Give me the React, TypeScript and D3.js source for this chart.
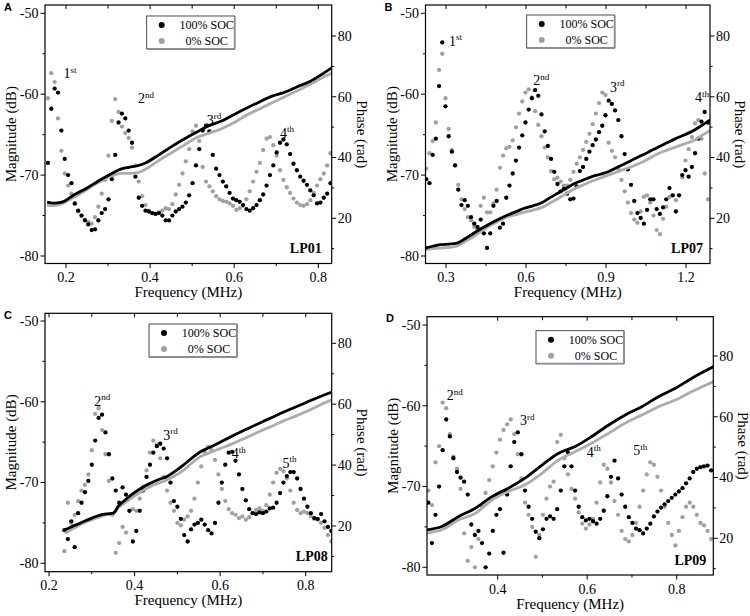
import React from 'react';
import * as d3 from 'd3';

// ---- LP01 (panel A) ----
const sweepA = { start: 0.157, step: 0.008 };
const magA100 = [
  -68.5, -61.8, -59.3, -59.8, -64.5, -68, -70, -71, -73.5, -74.4,
  -75, -75.6, -76.1, -76.8, -76.7, -75.6, -74.7, -74.2, -73, -70.5,
  -67.5, -63.5, -62.4, -63, -64.5, -66, -70.2, -72.8, -73.8, -74.4,
  -74.5, -74.7, -74.8, -74.7, -75, -75.6, -75.6, -75, -74.5, -74.2,
  -73.9, -73.4, -72.5, -71, -68.8, -66.8, -64.5, -63.9, -64.6, -67.5,
  -69.2, -70, -70.8, -71.4, -72.2, -72.9, -73.1, -73.3, -73.7, -74.2,
  -74.4, -74.1, -73.7, -73.1, -72.4, -71.3, -70, -68.8, -67.2, -66,
  -65.6, -66.2, -67.4, -68.6, -69.4, -70.2, -70.7, -71.2, -71.9, -72.5,
  -73.5, -73.4, -72.8, -72.3, -71,
];
const magA0 = [
  -60.5, -57.4, -58.5, -63, -67, -69.8, -71.3, -72.3, -73.6, -74.5,
  -75, -75.5, -75.8, -76, -75.2, -73.9, -72.3, -70.6, -67.6, -63.3,
  -60.6, -62.2, -64, -64.8, -65.4, -66.6, -68.8, -70.8, -72.6, -73.7,
  -74.4, -74.7, -74.8, -74.6, -74.4, -74.1, -74.2, -73.6, -72.4, -71.2,
  -69.8, -68.3, -66.8, -64.6, -63.9, -65.8, -69, -70.8, -71.4, -72,
  -72.6, -73, -73.2, -73.3, -73.5, -73.8, -74.3, -74.1, -73.8, -73,
  -72, -70.8, -69.6, -68.5, -66.9, -65.5, -65.3, -66.3, -67.6, -69.4,
  -70.6, -71.5, -72.2, -72.9, -73.4, -73.7, -73.8, -73.6, -73.1, -72.2,
  -71.3, -70.5, -69.8, -68.8, -67.3,
];
const phaseFreqA = [0.155, 0.17, 0.19, 0.22, 0.25, 0.28, 0.31, 0.33, 0.35, 0.37, 0.39, 0.42, 0.45, 0.48, 0.51, 0.54, 0.57, 0.6, 0.63, 0.66, 0.69, 0.72, 0.75, 0.78, 0.81, 0.835];
const phaseA100 = [25.3, 25, 25.3, 27.8, 30, 32.5, 34.8, 36.2, 36.8, 37.3, 38.3, 40.8, 43.5, 46, 48.3, 50.5, 52, 54.2, 56.3, 58.3, 60.2, 61.5, 63.3, 65, 67.5, 69.8];
const phaseA0 = [24.3, 24.2, 24.8, 27, 29.5, 32, 34, 34.8, 34.8, 35, 36.2, 39, 41.5, 44, 46.5, 48, 49.5, 51.5, 54, 56, 58, 60, 62, 64, 66.3, 68];
const peaksA = [
  { n: '1', s: 'st', f: 0.194, m: -58.0 },
  { n: '2', s: 'nd', f: 0.371, m: -61.1 },
  { n: '3', s: 'rd', f: 0.535, m: -63.8 },
  { n: '4', s: 'th', f: 0.709, m: -65.4 },
];

// ---- LP07 (panel B) ----
const sweepB = { start: 0.226, step: 0.012 };
const magB100 = [
  -70.5, -71, -67.5, -65.5, -59, -53.6, -61.5, -65.2, -67.1, -68.8,
  -71.8, -73.7, -73.1, -73.8, -75.2, -76, -76.4, -75.5, -77.2, -79,
  -77.2, -73.8, -73.2, -76.5, -76, -72.8, -71.3, -69.8, -68.2, -66.6,
  -65.1, -63.5, -61.9, -60.5, -59.5, -60.2, -62.5, -64.6, -66.4, -68,
  -69.6, -71.1, -72, -71.7, -72.3, -73, -72.9, -71.4, -69.5, -69,
  -68, -67.1, -66.3, -65.6, -64.7, -63.9, -62.6, -60.8, -61.2, -62,
  -63.2, -65.2, -67.4, -69.3, -71.2, -73.2, -74.7, -75.3, -76, -74.3,
  -73, -73, -74.2, -74.8, -74, -73, -71.6, -72.5, -74.5, -72.5,
  -70, -69.4, -70.2, -69, -67.3, -65.5, -63.4, -62.2, -63.5,
];
const magB0 = [
  -69.2, -67.3, -65.8, -63.5, -57, -55, -60.5, -64.3, -66.9, -68.8,
  -71.2, -73, -74.2, -75.2, -75.6, -76.4, -76.7, -73.8, -72.8, -74.6,
  -74.6, -73.5, -71.8, -69.1, -67.6, -66.7, -66.5, -65.7, -64.1, -62.4,
  -60.9, -59.8, -59.4, -60.4, -62.1, -63.8, -65.2, -66.6, -67.8, -69.5,
  -70.5, -70.3, -70.8, -71.3, -71.3, -70.6, -69.6, -68.6, -67.8, -66.9,
  -65.9, -64.9, -63.7, -62.4, -61.1, -59.8, -60.1, -66, -67, -67.8,
  -69.2, -70.6, -72, -73.4, -74.7, -75.5, -75.9, -74.5, -72.7, -72.5,
  -73.4, -75, -76.8, -77.3, -75.4, -73.9, -72.7, -72.5, -73.1, -72.5,
  -70.3, -68.2, -66.8, -65.3, -63.6, -63.2, -65.5, -69.8, -73,
];
const phaseFreqB = [0.221, 0.25, 0.278, 0.31, 0.341, 0.37, 0.404, 0.436, 0.468, 0.5, 0.531, 0.563, 0.594, 0.626, 0.657, 0.69, 0.721, 0.752, 0.784, 0.815, 0.847, 0.878, 0.91, 0.942, 0.974, 1.005, 1.037, 1.068, 1.1, 1.132, 1.163, 1.195, 1.227, 1.258, 1.292];
const phaseB100 = [10.2, 10.8, 11.3, 11.5, 11.8, 13.2, 15.1, 16.8, 18.4, 19.8, 21.1, 22.2, 23.3, 24.1, 25, 26.8, 28.3, 29.9, 31.5, 32.6, 33.7, 34.5, 35.4, 36.8, 38.1, 39.5, 40.8, 42.2, 43.6, 45, 46.3, 47.5, 48.8, 50.5, 52.5];
const phaseB0 = [9.6, 10, 10.2, 10.4, 10.8, 12.3, 14, 16, 17.8, 19.2, 20.5, 21.2, 22, 22.7, 23.5, 25, 26.5, 28.2, 29.8, 31, 32.2, 33.2, 34.3, 35.3, 36.3, 37.3, 38.5, 40, 41.5, 42.5, 43.5, 44.5, 45.5, 47.2, 49];
const peaksB = [
  { n: '1', s: 'st', f: 0.311, m: -54.0 },
  { n: '2', s: 'nd', f: 0.627, m: -58.9 },
  { n: '3', s: 'rd', f: 0.915, m: -59.7 },
  { n: '4', s: 'th', f: 1.234, m: -61.0 },
];

// ---- LP08 (panel C) ----
const sweepC = { start: 0.236, step: 0.008 };
const magC100 = [
  -75.9, -77, -74.8, -78, -73.8, -72.5, -71.2, -69.8, -67.8, -64.8,
  -62, -61.6, -63.8, -66.5, -69.5, -71, -72.5, -70.6, -71.5, -73.5,
  -77.3, -76, -73.5, -71, -69.3, -67.8, -66.3, -65.5, -65.2, -65.8,
  -67, -70, -72.3, -73, -74.5, -76.5, -77.3, -75.8, -75.2, -75,
  -74.6, -75.2, -75.9, -76.3, -75, -72.5, -70, -67.8, -66.3, -66.2,
  -67.3, -69, -70.8, -72.2, -73.3, -73.8, -73.9, -73.7, -73.8, -73.6,
  -73.2, -73.1, -72.5, -71.3, -70, -69.2, -68.7, -68.7, -69.5, -70.8,
  -72, -73, -73.8, -74.4, -74.5, -73.9, -74.8, -75.5, -76,
];
const magC0 = [
  -78.5, -72.5, -75, -74, -72.3, -71, -70.3, -69, -66, -61.5,
  -60.8, -63.5, -66.5, -69.8, -74, -78.7, -77.5, -75.5, -76.2, -73.5,
  -73.3, -73.5, -72, -70.5, -68.5, -66.3, -64.8, -65.3, -67, -69.3,
  -71, -72.5, -73.5, -75, -75.3, -74.6, -74.2, -73.5, -72, -70,
  -68, -66.2, -65.6, -66, -67.2, -69, -70.8, -72.3, -73.3, -73.8,
  -74, -74.4, -74.2, -74.6, -74.3, -73.8, -73.4, -73.2, -73.5, -72.8,
  -71.5, -70, -68.8, -68.3, -68.6, -69.5, -71, -72.5, -73.4, -73.8,
  -73.6, -73.8, -74.2, -74.5, -74.6, -75, -75.6, -76.5, -77.3,
];
const phaseFreqC = [0.237, 0.26, 0.28, 0.3, 0.319, 0.335, 0.35, 0.362, 0.38, 0.397, 0.416, 0.436, 0.455, 0.475, 0.495, 0.514, 0.533, 0.553, 0.575, 0.6, 0.625, 0.65, 0.675, 0.7, 0.725, 0.75, 0.775, 0.8, 0.83, 0.862];
const phaseC100 = [18.7, 20.2, 21.4, 22.6, 23.6, 24, 24.2, 26.5, 28.8, 30.7, 32.5, 34, 35.2, 36.2, 38, 40, 42.2, 44.3, 45.8, 47.5, 49.3, 51, 52.7, 54.3, 55.9, 57.5, 59, 60.5, 62.3, 64];
const phaseC0 = [17.6, 19.4, 20.9, 22.1, 23, 23.7, 24, 26, 27.9, 29.6, 31.3, 32.9, 34, 35.1, 36.6, 38.3, 40.6, 42.7, 44, 45.4, 46.8, 48.3, 49.9, 51.5, 53, 54.6, 56, 57.5, 59.5, 61.5];
const peaksC = [
  { n: '2', s: 'nd', f: 0.306, m: -60.5 },
  { n: '3', s: 'rd', f: 0.467, m: -64.7 },
  { n: '4', s: 'th', f: 0.627, m: -67.0 },
  { n: '5', s: 'th', f: 0.746, m: -68.2 },
];

// ---- LP09 (panel D) ----
const sweepD = { start: 0.245, step: 0.008 };
const magD100 = [
  -72, -77, -73.5, -70, -65.5, -61.7, -63.8, -66.5, -68.2, -68.9,
  -69.4, -71, -74.7, -76, -75.5, -77, -80, -78.3, -75.5, -73.5,
  -72.8, -78.2, -71, -67.5, -64.5, -63.3, -66, -70.5, -72.5, -74,
  -75.6, -76.4, -75.3, -74, -73.7, -74, -72.8, -70.5, -67.5, -65.8,
  -67.5, -70.5, -72.5, -73.8, -74.2, -74, -74.3, -74.6, -74, -73,
  -71.2, -68.8, -66.8, -69, -71, -72.5, -73.8, -74.5, -75.2, -75.4,
  -75.8, -75.2, -74.6, -73.7, -73.1, -72.6, -72.2, -71.8, -71.4, -71,
  -70.6, -70.2, -69.6, -69, -68.2, -67.8, -67.6, -67.5, -67.4, -68,
];
const magD0 = [
  -70.5, -72.3, -67, -65, -59.6, -60.3, -63.5, -66.3, -67.8, -70.3,
  -75.8, -79.2, -77.5, -80, -76.5, -72.5, -70.8, -69.2, -67.5, -65.8,
  -64.2, -63, -62.3, -61.7, -63.5, -66, -69, -72, -73.5, -75,
  -78.7, -76, -73.5, -71.5, -70, -69.4, -64.5, -63.6, -66.5, -68.5,
  -70.3, -71.5, -73.2, -74.6, -75.2, -74.7, -74, -72, -69.5, -67.3,
  -67.8, -69.5, -71.8, -73.5, -75.5, -76.5, -76.8, -76, -74.5, -72.5,
  -70.5, -68.5, -67, -67.3, -68.8, -70.5, -72.5, -74.5, -76, -77.3,
  -75.5, -73.8, -72.5, -72, -72.5, -73.5, -74.5, -74.8, -75.5, -76.5,
];
const phaseFreqD = [0.242, 0.275, 0.312, 0.35, 0.387, 0.424, 0.461, 0.499, 0.536, 0.573, 0.61, 0.648, 0.685, 0.722, 0.759, 0.797, 0.834, 0.884];
const phaseD100 = [22.8, 23.9, 27.1, 29.9, 33.7, 36.5, 39.8, 44.1, 48, 50.2, 53.5, 57.3, 60.6, 63.3, 66.6, 69.4, 72.7, 76.6];
const phaseD0 = [21.7, 22.8, 26, 28.2, 32.6, 35.4, 37.6, 41.4, 45.8, 48.5, 51.3, 54.6, 57.9, 60.6, 63.3, 65.5, 68.3, 71.7];
const peaksD = [
  { n: '2', s: 'nd', f: 0.286, m: -59.3 },
  { n: '3', s: 'rd', f: 0.45, m: -62.4 },
  { n: '4', s: 'th', f: 0.599, m: -66.3 },
  { n: '5', s: 'th', f: 0.703, m: -66.1 },
];

const magMajor = [-50, -60, -70, -80];
const magMinor = [-55, -65, -75];
const phaseMajor = [20, 40, 60, 80];
const phaseMinor = [10, 30, 50, 70];
const legendLabels = ['100% SOC', '0% SOC'];

const SERIF = 'Liberation Serif, serif';
const SANS = 'Liberation Sans, Arial, sans-serif';
const BLACK = '#000';
const GRAY = '#a0a0a0';
const GRAY_LINE = '#acacac';

const panels = [
  {
    id: 'A', lp: 'LP01', lpInset: 10,
    box: [45, 5, 331.7, 263.5], xCal: [[0.2, 66], [0.8, 318.3]],
    magPx: [13.3, 256], phPx: [36, 218.3],
    xMajor: [0.2, 0.4, 0.6, 0.8], xMinor: [0.3, 0.5, 0.7],
    sweep: sweepA, m100: magA100, m0: magA0,
    pf: phaseFreqA, p100: phaseA100, p0: phaseA0, peaks: peaksA,
    legend: [101.7, 11],
  },
  {
    id: 'B', lp: 'LP07', lpInset: 7,
    box: [425.5, 5, 710, 263.5], xCal: [[0.3, 446], [1.2, 686]],
    magPx: [13.3, 256], phPx: [36, 218.3],
    xMajor: [0.3, 0.6, 0.9, 1.2], xMinor: [0.45, 0.75, 1.05],
    sweep: sweepB, m100: magB100, m0: magB0,
    pf: phaseFreqB, p100: phaseB100, p0: phaseB0, peaks: peaksB,
    legend: [101.2, 10],
  },
  {
    id: 'C', lp: 'LP08', lpInset: 4,
    box: [45, 313.3, 331.7, 571.7], xCal: [[0.2, 49], [0.8, 305.7]],
    magPx: [321, 563.3], phPx: [343.3, 526],
    xMajor: [0.2, 0.4, 0.6, 0.8], xMinor: [0.3, 0.5, 0.7],
    sweep: sweepC, m100: magC100, m0: magC0,
    pf: phaseFreqC, p100: phaseC100, p0: phaseC0, peaks: peaksC,
    legend: [104, 10.7],
  },
  {
    id: 'D', lp: 'LP09', lpInset: 7,
    box: [427, 316.7, 713.3, 575], xCal: [[0.4, 497.7], [0.8, 676.7]],
    magPx: [325, 567.3], phPx: [356, 538.3],
    xMajor: [0.4, 0.6, 0.8], xMinor: [0.5, 0.7],
    sweep: sweepD, m100: magD100, m0: magD0,
    pf: phaseFreqD, p100: phaseD100, p0: phaseD0, peaks: peaksD,
    legend: [109, 14],
  },
];

function Panel({ p }: { p: any }) {
  const [x0, y0, x1, y1] = p.box;
  const x = d3.scaleLinear().domain([p.xCal[0][0], p.xCal[1][0]]).range([p.xCal[0][1], p.xCal[1][1]]);
  const yM = d3.scaleLinear().domain([-50, -80]).range(p.magPx);
  const yP = d3.scaleLinear().domain([80, 20]).range(p.phPx);
  const clipId = `clip-${p.id}`;
  const fmt = d3.format('.1f');

  const dots = (mags: number[]) =>
    mags.map((m, i) => ({ f: p.sweep.start + i * p.sweep.step, m }));

  const phaseLine = d3.line<number>()
    .x((_, i) => x(p.pf[i]))
    .y((v) => yP(v))
    .curve(d3.curveMonotoneX);

  const lx = x0 + p.legend[0];
  const ly = y0 + p.legend[1];
  const cx = (x0 + x1) / 2;
  const cy = (y0 + y1) / 2;

  return (
    <g>
      <defs>
        <clipPath id={clipId}>
          <rect x={x0} y={y0} width={x1 - x0} height={y1 - y0} />
        </clipPath>
      </defs>

      <g clipPath={`url(#${clipId})`}>
        {dots(p.m0).map((d, i) => (
          <circle key={`g${i}`} cx={x(d.f)} cy={yM(d.m)} r={2.15} fill={GRAY} />
        ))}
        {dots(p.m100).map((d, i) => (
          <circle key={`b${i}`} cx={x(d.f)} cy={yM(d.m)} r={2.15} fill={BLACK} />
        ))}
        <path d={phaseLine(p.p0) || ''} fill="none" stroke={GRAY_LINE} strokeWidth={2.8} />
        <path d={phaseLine(p.p100) || ''} fill="none" stroke={BLACK} strokeWidth={2.8} />
      </g>

      <rect x={x0} y={y0} width={x1 - x0} height={y1 - y0} fill="none" stroke="#000" strokeWidth={1.2} />

      {/* left magnitude axis */}
      {magMajor.map((v) => (
        <g key={`mm${v}`}>
          <line x1={x0 - 4.5} x2={x0} y1={yM(v)} y2={yM(v)} stroke="#000" strokeWidth={1} />
          <text x={x0 - 6.5} y={yM(v) + 4.8} textAnchor="end" fontSize={14}>{v}</text>
        </g>
      ))}
      {magMinor.map((v) => (
        <line key={`mn${v}`} x1={x0 - 2.5} x2={x0} y1={yM(v)} y2={yM(v)} stroke="#000" strokeWidth={1} />
      ))}

      {/* right phase axis */}
      {phaseMajor.map((v) => (
        <g key={`pm${v}`}>
          <line x1={x1} x2={x1 + 4.5} y1={yP(v)} y2={yP(v)} stroke="#000" strokeWidth={1} />
          <text x={x1 + 6} y={yP(v) + 4.8} fontSize={14}>{v}</text>
        </g>
      ))}
      {phaseMinor.map((v) => (
        <line key={`pn${v}`} x1={x1} x2={x1 + 2.5} y1={yP(v)} y2={yP(v)} stroke="#000" strokeWidth={1} />
      ))}

      {/* bottom / top frequency ticks */}
      {p.xMajor.map((v: number) => (
        <g key={`xm${v}`}>
          <line x1={x(v)} x2={x(v)} y1={y1} y2={y1 + 4.5} stroke="#000" strokeWidth={1} />
          <line x1={x(v)} x2={x(v)} y1={y0} y2={y0 + 4} stroke="#000" strokeWidth={1} />
          <text x={x(v)} y={y1 + 18.5} textAnchor="middle" fontSize={14}>{fmt(v)}</text>
        </g>
      ))}
      {p.xMinor.map((v: number) => (
        <g key={`xn${v}`}>
          <line x1={x(v)} x2={x(v)} y1={y1} y2={y1 + 2.5} stroke="#000" strokeWidth={1} />
          <line x1={x(v)} x2={x(v)} y1={y0} y2={y0 + 3.5} stroke="#000" strokeWidth={1} />
        </g>
      ))}

      {/* axis titles */}
      <text x={cx} y={y1 + 33.5} textAnchor="middle" fontSize={15}>Frequency (MHz)</text>
      <text transform={`translate(${x0 - 29},${cy}) rotate(-90)`} textAnchor="middle" fontSize={15}>Magnitude (dB)</text>
      <text transform={`translate(${x1 + 25},${cy}) rotate(90)`} textAnchor="middle" fontSize={15}>Phase (rad)</text>

      {/* harmonic labels */}
      {p.peaks.map((h: any) => (
        <text key={h.n + h.s} x={x(h.f)} y={yM(h.m)} fontSize={14}>
          {h.n}
          <tspan dy={-5.5} fontSize={9}>{h.s}</tspan>
        </text>
      ))}

      {/* legend */}
      <rect x={lx} y={ly} width={88} height={33} fill="#fff" stroke="#222" strokeWidth={0.8} />
      <line x1={lx + 0.5} x2={lx + 88} y1={ly + 33} y2={ly + 33} stroke="#8c8c8c" strokeWidth={1.8} />
      <line x1={lx + 88} x2={lx + 88} y1={ly + 0.5} y2={ly + 33} stroke="#8c8c8c" strokeWidth={1.8} />
      {legendLabels.map((lab, i) => (
        <g key={lab}>
          <circle cx={lx + 15} cy={ly + 9 + i * 16} r={3} fill={i === 0 ? BLACK : GRAY} />
          <text x={lx + 60} y={ly + 13.3 + i * 16} textAnchor="middle" fontSize={12}>{lab}</text>
        </g>
      ))}

      <text x={x1 - p.lpInset} y={y1 - 10.5} textAnchor="end" fontSize={14} fontWeight="bold">{p.lp}</text>

      <text x={x0 - 41} y={y0 + 5.5} fontSize={11} fontWeight="bold" fontFamily={SANS}>{p.id}</text>
    </g>
  );
}

export default function App() {
  return (
    <div style={{ position: 'absolute', left: 0, top: 0 }}>
      <svg width={750} height={616} fontFamily={SERIF} style={{ display: 'block', background: '#fff' }}>
        {panels.map((p) => (
          <Panel key={p.id} p={p} />
        ))}
      </svg>
    </div>
  );
}
